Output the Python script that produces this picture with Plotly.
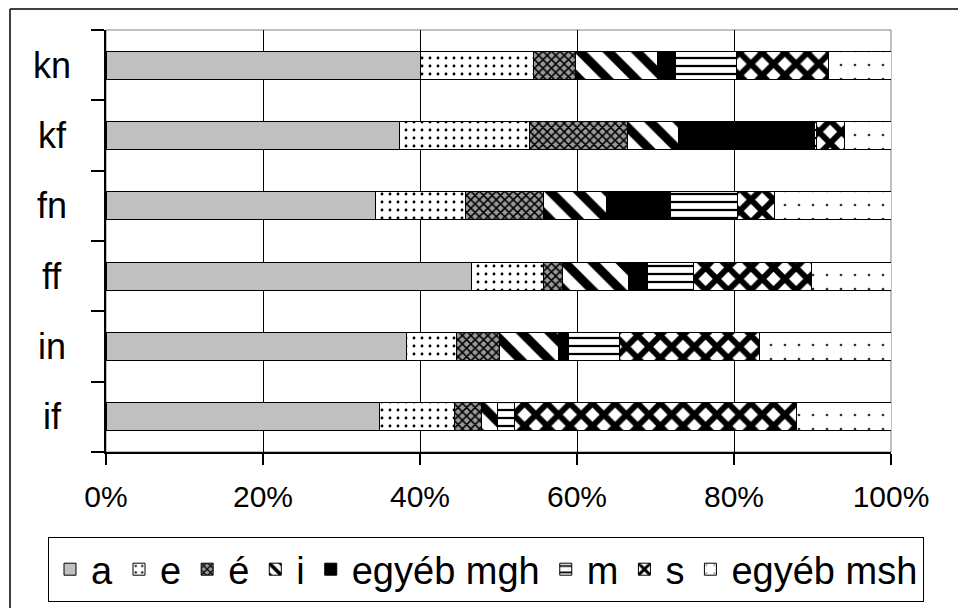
import plotly.graph_objects as go

categories = ["if", "in", "ff", "fn", "kf", "kn"]
series_names = ["a", "e", "é", "i", "egyéb mgh", "m", "s", "egyéb msh"]
a_vals = [34.8, 38.3, 46.5, 34.3, 37.4, 40.1]
e_vals = [9.6, 6.4, 9.2, 11.5, 16.6, 14.3]
ee_vals = [3.4, 5.4, 2.5, 9.9, 12.4, 5.4]
i_vals = [2.1, 7.6, 8.4, 8.1, 6.5, 10.4]
mgh_vals = [0.0, 1.2, 2.4, 8.1, 17.3, 2.4]
m_vals = [2.2, 6.5, 5.9, 8.5, 0.3, 7.7]
s_vals = [35.8, 17.9, 15.0, 4.8, 3.6, 11.7]
msh_vals = [12.1, 16.7, 10.1, 14.8, 5.9, 8.0]
x_ticks = [0, 20, 40, 60, 80, 100]

values = [a_vals, e_vals, ee_vals, i_vals, mgh_vals, m_vals, s_vals, msh_vals]

styles = [
    dict(color="#C0C0C0", pattern=None),
    dict(color="white", pattern=dict(shape=".", fgcolor="black", bgcolor="white", size=8, solidity=0.1)),
    dict(color="#808080", pattern=dict(shape="x", fgcolor="black", bgcolor="#9a9a9a", size=6, solidity=0.45)),
    dict(color="white", pattern=dict(shape="\\", fgcolor="black", bgcolor="white", size=20, solidity=0.45)),
    dict(color="black", pattern=None),
    dict(color="white", pattern=dict(shape="-", fgcolor="black", bgcolor="white", size=8, solidity=0.28)),
    dict(color="white", pattern=dict(shape="x", fgcolor="black", bgcolor="white", size=16, solidity=0.6)),
    dict(color="white", pattern=dict(shape=".", fgcolor="#333333", bgcolor="white", size=14, solidity=0.03)),
]

FONT = "Liberation Sans, Arial, sans-serif"

fig = go.Figure()
for name, vals, st in zip(series_names, values, styles):
    marker = dict(color=st["color"], line=dict(color="black", width=1))
    if st["pattern"] is not None:
        marker["pattern"] = dict(fillmode="replace", **st["pattern"])
    fig.add_trace(go.Bar(
        y=categories, x=vals, name=name, orientation="h",
        marker=marker, hoverinfo="skip",
    ))

L, R, T, B = 106, 67, 30, 156
W, H = 958, 608
pw, ph = W - L - R, H - T - B

def px_x(p):
    return (p - L) / pw

def px_y(p):
    return (H - B - p) / ph

shapes = [
    # outer chart border (cropped at right/bottom in the reference)
    dict(type="line", xref="paper", yref="paper", x0=px_x(10), y0=px_y(9), x1=px_x(10), y1=px_y(700),
         line=dict(color="black", width=1.5), layer="below"),
    dict(type="line", xref="paper", yref="paper", x0=px_x(10), y0=px_y(9), x1=px_x(1100), y1=px_y(9),
         line=dict(color="black", width=1.5), layer="below"),
    # plot area border (grey)
    dict(type="rect", xref="paper", yref="paper", x0=0, y0=0, x1=1, y1=1,
         line=dict(color="#808080", width=1), fillcolor="rgba(0,0,0,0)", layer="below"),
]

annotations = [
    dict(x=px_x(52), y=c, xref="paper", yref="y", text=c, showarrow=False,
         xanchor="center", yanchor="middle", font=dict(family=FONT, size=36, color="black"))
    for c in categories
]

fig.update_layout(
    width=W, height=H,
    margin=dict(l=L, r=R, t=T, b=B, pad=0, autoexpand=False),
    barmode="stack",
    bargap=0.6,
    plot_bgcolor="white", paper_bgcolor="white",
    font=dict(family=FONT, color="black"),
    shapes=shapes,
    annotations=annotations,
    showlegend=True,
    legend=dict(
        orientation="h", x=px_x(48), y=px_y(537), xanchor="left", yanchor="top",
        bordercolor="black", borderwidth=1, bgcolor="white",
        font=dict(family=FONT, size=38, color="black"),
        traceorder="normal", itemwidth=32,
        tracegroupgap=0,
    ),
)
fig.update_xaxes(
    range=[0, 100], tickvals=x_ticks, ticktext=[f"{v}%" for v in x_ticks],
    showgrid=True, gridcolor="black", gridwidth=1,
    showline=True, linecolor="black", linewidth=1.5,
    ticks="outside", ticklen=11, tickcolor="black", tickwidth=1.5,
    tickfont=dict(family=FONT, size=30, color="black"),
    ticklabelstandoff=6,
    zeroline=False, fixedrange=True,
)
fig.update_yaxes(
    categoryorder="array", categoryarray=categories,
    showgrid=False, showline=True, linecolor="black", linewidth=1.5,
    ticks="outside", ticklen=13, tickcolor="black", tickwidth=1.5,
    tickson="boundaries", showticklabels=False,
    zeroline=False, fixedrange=True,
)

fig.write_html("out.html")
